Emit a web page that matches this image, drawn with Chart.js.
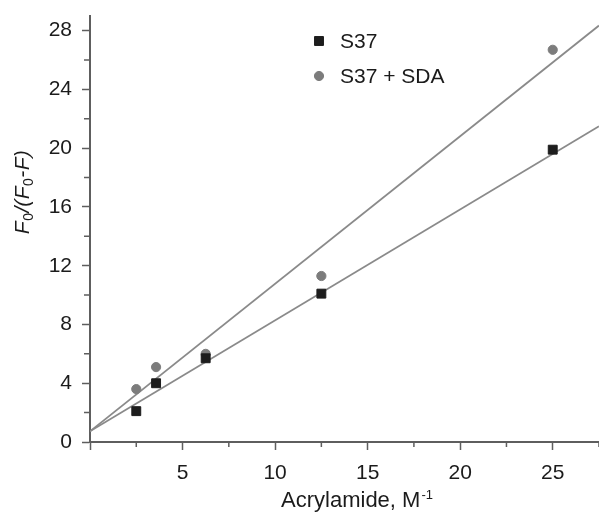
<!DOCTYPE html>
<html>
<head>
<meta charset="utf-8">
<script src="https://cdn.jsdelivr.net/npm/chart.js@4.4.1/dist/chart.umd.min.js"></script>
<style>
  html, body { margin: 0; padding: 0; background: #fff; }
  #wrap { width: 599px; height: 512px; position: relative; }
</style>
</head>
<body>
<div id="wrap"><canvas id="quench"></canvas></div>
<script>
// acrylamide (1/[Q], M^-1) and F0/(F0-F)
const concInv = [2.5, 3.57, 6.25, 12.5, 25];
const s37 = [2.1, 4.0, 5.7, 10.1, 19.9];
const s37Sda = [3.6, 5.1, 6.0, 11.3, 26.7];

// fitted straight lines, end points at the axis limits
const fitX = [0, 27.5];
const fitS37 = [0.73, 21.5];
const fitSda = [0.73, 28.35];

const xMajor = [5, 10, 15, 20, 25];
const yMajor = [0, 4, 8, 12, 16, 20, 24, 28];

const AXIS = '#5e5e5e';
const TEXT = '#1b1b1b';
const FONT = '"Liberation Sans", Arial, sans-serif';

const toXY = (xs, ys) => xs.map((x, i) => ({ x: x, y: ys[i] }));

const isMajorX = v => v % 5 === 0;
const isMajorY = v => v % 4 === 0;

// short minor ticks, drawn from the scales
const minorTicks = {
  id: 'minorTicks',
  afterDraw(chart) {
    const ctx = chart.ctx;
    const xs = chart.scales.x, ys = chart.scales.y;
    ctx.save();
    ctx.strokeStyle = AXIS;
    ctx.lineWidth = 1.5;
    ctx.beginPath();
    xs.ticks.forEach(t => {
      if (isMajorX(t.value)) return;
      const px = xs.getPixelForValue(t.value);
      ctx.moveTo(px, xs.top);
      ctx.lineTo(px, xs.top + 5);
    });
    ys.ticks.forEach(t => {
      if (isMajorY(t.value)) return;
      const py = ys.getPixelForValue(t.value);
      ctx.moveTo(ys.right, py);
      ctx.lineTo(ys.right - 6, py);
    });
    ctx.stroke();
    ctx.restore();
  }
};

// axis titles with sub/superscripts
const axisTitles = {
  id: 'axisTitles',
  afterDraw(chart) {
    const ctx = chart.ctx;
    ctx.save();
    ctx.fillStyle = TEXT;
    ctx.textBaseline = 'alphabetic';

    // x title: Acrylamide, M^-1
    const main = 'Acrylamide, M';
    ctx.font = '22px ' + FONT;
    const w1 = ctx.measureText(main).width;
    ctx.font = '13px ' + FONT;
    const w2 = ctx.measureText('-1').width;
    let x0 = 357 - (w1 + w2 + 1) / 2;
    ctx.font = '22px ' + FONT;
    ctx.fillText(main, x0, 507);
    ctx.font = '13px ' + FONT;
    ctx.fillText('-1', x0 + w1 + 1, 499);

    // y title: F0/(F0-F), italic, rotated
    const parts = [
      ['F', 'i'], ['0', 's'], ['/(', 'i'], ['F', 'i'], ['0', 's'], ['-', 'i'], ['F)', 'i']
    ];
    const fontOf = k => k === 's' ? '14px ' + FONT : 'italic 21px ' + FONT;
    let total = 0;
    parts.forEach(p => { ctx.font = fontOf(p[1]); total += ctx.measureText(p[0]).width + 0.5; });
    ctx.translate(29, 192 + total / 2);
    ctx.rotate(-Math.PI / 2);
    let pos = 0;
    parts.forEach(p => {
      ctx.font = fontOf(p[1]);
      ctx.fillText(p[0], pos, p[1] === 's' ? 4 : 0);
      pos += ctx.measureText(p[0]).width + 0.5;
    });
    ctx.restore();
  }
};

// legend inside the plot, styled from the datasets
const innerLegend = {
  id: 'innerLegend',
  afterDraw(chart) {
    const ctx = chart.ctx;
    const rows = [
      { ds: chart.data.datasets[0], y: 41 },
      { ds: chart.data.datasets[1], y: 76 }
    ];
    ctx.save();
    ctx.font = '21px ' + FONT;
    ctx.textBaseline = 'middle';
    rows.forEach(r => {
      ctx.fillStyle = r.ds.backgroundColor;
      ctx.strokeStyle = r.ds.borderColor;
      Chart.helpers.drawPoint(ctx, {
        pointStyle: r.ds.pointStyle,
        radius: r.ds.pointRadius,
        borderWidth: 1
      }, 319, r.y);
      ctx.fillStyle = TEXT;
      ctx.fillText(r.ds.label, 340, r.y + 1);
    });
    ctx.restore();
  }
};

new Chart(document.getElementById('quench'), {
  type: 'scatter',
  data: {
    datasets: [
      {
        label: 'S37',
        data: toXY(concInv, s37),
        pointStyle: 'rect',
        pointRadius: 6.3,
        backgroundColor: '#1d1d1d',
        borderColor: '#1d1d1d',
        borderWidth: 1,
        order: 0
      },
      {
        label: 'S37 + SDA',
        data: toXY(concInv, s37Sda),
        pointStyle: 'circle',
        pointRadius: 4.6,
        backgroundColor: '#7c7c7c',
        borderColor: '#7c7c7c',
        borderWidth: 1,
        order: 0
      },
      {
        label: 'fit S37',
        data: toXY(fitX, fitS37),
        showLine: true,
        pointRadius: 0,
        borderColor: '#8a8a8a',
        borderWidth: 1.8,
        order: 1
      },
      {
        label: 'fit S37 + SDA',
        data: toXY(fitX, fitSda),
        showLine: true,
        pointRadius: 0,
        borderColor: '#8a8a8a',
        borderWidth: 1.8,
        order: 1
      }
    ]
  },
  options: {
    responsive: true,
    maintainAspectRatio: false,
    animation: false,
    layout: {
      autoPadding: false,
      padding: { top: 16, right: 0, left: 0, bottom: 0 }
    },
    plugins: {
      legend: { display: false },
      tooltip: { enabled: false }
    },
    scales: {
      x: {
        type: 'linear',
        min: 0,
        max: 27.5,
        afterFit(scale) {
          scale.height = 70;
          scale.paddingLeft = 0;
          scale.paddingRight = 0;
        },
        border: { color: AXIS, width: 2 },
        grid: {
          drawOnChartArea: false,
          tickLength: 8,
          tickWidth: 1.5,
          tickColor: c => isMajorX(c.tick.value) ? AXIS : 'rgba(0,0,0,0)'
        },
        ticks: {
          stepSize: 2.5,
          autoSkip: false,
          maxRotation: 0,
          padding: 11,
          color: TEXT,
          font: { family: FONT, size: 21 },
          callback: v => (xMajor.includes(v) ? String(v) : '')
        }
      },
      y: {
        type: 'linear',
        min: 0,
        max: 29,
        afterFit(scale) {
          scale.width = 90;
          scale.paddingTop = 0;
          scale.paddingBottom = 0;
        },
        border: { color: AXIS, width: 2 },
        grid: {
          drawOnChartArea: false,
          tickLength: 8,
          tickWidth: 1.5,
          tickColor: c => isMajorY(c.tick.value) ? AXIS : 'rgba(0,0,0,0)'
        },
        ticks: {
          stepSize: 2,
          includeBounds: false,
          autoSkip: false,
          padding: 10,
          color: TEXT,
          font: { family: FONT, size: 21 },
          callback: v => (yMajor.includes(v) ? String(v) : '')
        }
      }
    }
  },
  plugins: [minorTicks, axisTitles, innerLegend]
});
</script>
</body>
</html>
